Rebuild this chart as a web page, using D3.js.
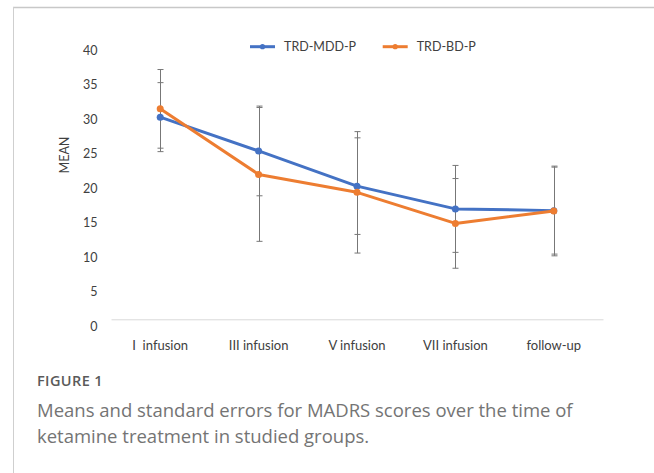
<!DOCTYPE html>
<html>
<head>
<meta charset="utf-8">
<script src="https://cdn.jsdelivr.net/npm/d3@7"></script>
<style>
  html, body { margin: 0; padding: 0; background: #fff; }
  svg { display: block; }
</style>
</head>
<body>
<svg id="chart" width="654" height="473"></svg>
<script>
// MADRS scores across the ketamine treatment course
const categories = ["I  infusion", "III infusion", "V infusion", "VII infusion", "follow-up"];
const seriesNames = ["TRD-MDD-P", "TRD-BD-P"];
const mddMean = [29.3, 24.4, 19.3, 16.0, 15.75];
const mddErr = [5.0, 6.5, 7.0, 6.3, 6.3];
const bdMean = [30.5, 21.0, 18.4, 13.9, 15.7];
const bdErr = [5.7, 9.7, 8.8, 6.5, 6.5];
const yTicks = [0, 5, 10, 15, 20, 25, 30, 35, 40];
const colors = ["#4472C4", "#ED7D31"];

const series = [
  { name: seriesNames[0], mean: mddMean, err: mddErr, color: colors[0] },
  { name: seriesNames[1], mean: bdMean, err: bdErr, color: colors[1] }
];

const svg = d3.select("#chart");
svg.append("rect").attr("width", 654).attr("height", 473).attr("fill", "#fff");

// panel frame (top and left rules)
svg.append("line").attr("x1", 13).attr("x2", 654).attr("y1", 7.5).attr("y2", 7.5)
  .attr("stroke", "#c8c8c8").attr("stroke-width", 1.5);
svg.append("line").attr("x1", 13.5).attr("x2", 13.5).attr("y1", 7).attr("y2", 473)
  .attr("stroke", "#cfcfcf").attr("stroke-width", 1);

const x = d3.scaleBand().domain(categories).range([111, 603]).padding(0);
const cx = c => x(c) + x.bandwidth() / 2;
const y = d3.scaleLinear().domain([0, 40]).range([319.3, 43.3]);

const font = "Lato, 'Open Sans', sans-serif";

// y axis labels
const yAxis = d3.axisLeft(y).tickValues(yTicks).tickSize(0).tickPadding(13.5);
const gy = svg.append("g").attr("transform", "translate(111,0)").call(yAxis);
gy.select(".domain").remove();
gy.selectAll("text").attr("font-family", font).attr("font-size", 12.5)
  .attr("fill", "#404040").attr("dy", "0.32em").attr("transform", "translate(0,7)");

// x axis
const xAxis = d3.axisBottom(x).tickSize(0).tickPadding(21);
const gx = svg.append("g").attr("transform", `translate(0,${y(0)})`).call(xAxis);
gx.select(".domain").attr("stroke", "#d9d9d9").attr("stroke-width", 1);
gx.selectAll("text").attr("font-family", font).attr("font-size", 13)
  .attr("fill", "#404040").style("white-space", "pre");

// y title
svg.append("text").attr("transform", "translate(69,155) rotate(-90)")
  .attr("text-anchor", "middle").attr("font-family", font).attr("font-size", 12.5)
  .attr("fill", "#404040").text("MEAN");

// error bars
const eb = svg.append("g").attr("stroke", "#777").attr("stroke-width", 1).attr("fill", "none");
series.forEach(s => {
  categories.forEach((c, i) => {
    const xc = Math.round(cx(c)) + 0.5;
    const top = y(s.mean[i] + s.err[i]);
    const bot = y(s.mean[i] - s.err[i]);
    eb.append("line").attr("x1", xc).attr("x2", xc).attr("y1", top).attr("y2", bot);
    eb.append("line").attr("x1", xc - 3).attr("x2", xc + 3).attr("y1", top).attr("y2", top);
    eb.append("line").attr("x1", xc - 3).attr("x2", xc + 3).attr("y1", bot).attr("y2", bot);
  });
});

// series lines and markers
const line = d3.line().x((d, i) => cx(categories[i])).y(d => y(d));
series.forEach(s => {
  svg.append("path").datum(s.mean).attr("d", line).attr("fill", "none")
    .attr("stroke", s.color).attr("stroke-width", 3).attr("stroke-linejoin", "round");
  svg.append("g").selectAll("circle").data(s.mean).join("circle")
    .attr("cx", (d, i) => cx(categories[i])).attr("cy", d => y(d)).attr("r", 3.5)
    .attr("fill", s.color);
});

// legend
const legendX = [250, 382.7];
series.forEach((s, i) => {
  const g = svg.append("g").attr("transform", `translate(${legendX[i]},46.7)`);
  g.append("line").attr("x1", 0).attr("x2", 25).attr("stroke", s.color).attr("stroke-width", 3);
  g.append("circle").attr("cx", 12.5).attr("r", 2.6).attr("fill", s.color);
  g.append("text").attr("x", 34).attr("dy", "0.35em").attr("font-family", font)
    .attr("font-size", 12.5).attr("fill", "#404040").text(s.name);
});

// caption
const capFont = "'Open Sans', Lato, sans-serif";
svg.append("text").attr("x", 37).attr("y", 386).attr("font-family", capFont)
  .attr("font-size", 14.5).attr("font-weight", 600).attr("letter-spacing", 0.4)
  .attr("fill", "#5a5a5a").text("FIGURE 1");
svg.append("text").attr("x", 37).attr("y", 417).attr("font-family", capFont)
  .attr("font-size", 18.5).attr("fill", "#747474")
  .text("Means and standard errors for MADRS scores over the time of");
svg.append("text").attr("x", 37).attr("y", 443).attr("font-family", capFont)
  .attr("font-size", 18.5).attr("fill", "#747474")
  .text("ketamine treatment in studied groups.");
</script>
</body>
</html>
